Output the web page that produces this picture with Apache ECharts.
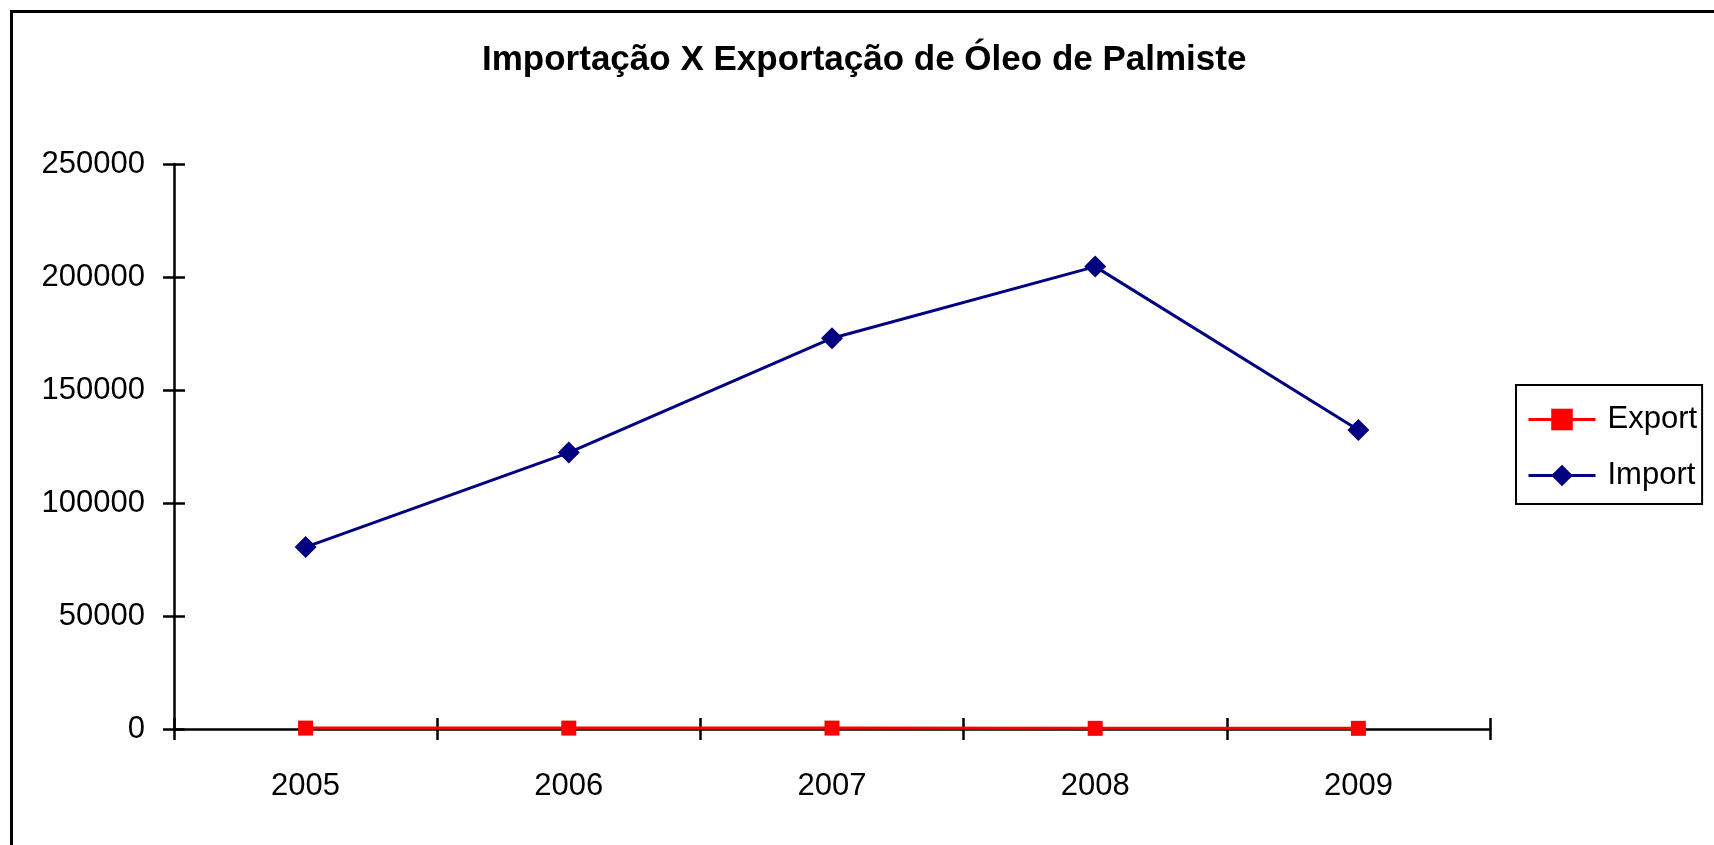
<!DOCTYPE html>
<html>
<head>
<meta charset="utf-8">
<title>Importação X Exportação de Óleo de Palmiste</title>
<script src="https://cdn.jsdelivr.net/npm/echarts@6/dist/echarts.min.js"></script>
<style>
  html, body { margin: 0; padding: 0; background: #fff; }
  #chart { width: 1714px; height: 845px; }
</style>
</head>
<body>
<div id="chart"></div>
<script>
// dados
const years = ['2005', '2006', '2007', '2008', '2009']
const exportValues = [400, 400, 400, 300, 300]
const importValues = [80500, 122300, 172900, 204600, 132300]

const yMin = 0
const yMax = 250000
const yStep = 50000

const font = 'Liberation Sans'

const chart = echarts.init(document.getElementById('chart'))

const tickStyle = { color: '#000', width: 2.5 }

const option = {
  backgroundColor: '#fff',
  animation: false,
  title: {
    text: 'Importação X Exportação de Óleo de Palmiste',
    left: 477,
    top: 38,
    padding: 5,
    textStyle: {
      fontFamily: font,
      fontWeight: 'bold',
      fontSize: 35,
      color: '#000',
    },
  },
  // moldura externa
  graphic: [
    {
      type: 'rect',
      left: 9,
      top: 9,
      shape: { width: 1730, height: 870 },
      style: { fill: 'none', stroke: '#000', lineWidth: 3 },
      silent: true,
    },
  ],
  legend: {
    orient: 'vertical',
    left: 1516,
    top: 385,
    padding: [19, 5, 13, 11],
    itemWidth: 67,
    itemHeight: 27,
    itemGap: 25,
    borderColor: '#000',
    borderWidth: 2,
    backgroundColor: '#fff',
    lineStyle: { width: 3 },
    textStyle: {
      fontFamily: font,
      fontSize: 31,
      color: '#000',
      lineHeight: 30,
      padding: [0, 0, 0, 7],
    },
    data: ['Export', 'Import'],
  },
  grid: {
    left: 174,
    right: 224,
    top: 164,
    bottom: 116,
  },
  xAxis: [
    {
      type: 'category',
      data: years,
      boundaryGap: true,
      axisLine: { lineStyle: { color: '#000', width: 2.5 } },
      axisTick: { show: true, inside: false, length: 11, interval: 0, lineStyle: tickStyle },
      axisLabel: { fontFamily: font, fontSize: 31, color: '#000', margin: 42 },
      splitLine: { show: false },
    },
    {
      // ticks internos (marca cruzada)
      type: 'category',
      data: years,
      position: 'bottom',
      boundaryGap: true,
      axisLine: { show: false },
      axisTick: { show: true, inside: true, length: 11, interval: 0, lineStyle: tickStyle },
      axisLabel: { show: false },
      splitLine: { show: false },
    },
  ],
  yAxis: [
    {
      type: 'value',
      min: yMin,
      max: yMax,
      interval: yStep,
      axisLine: { show: true, lineStyle: { color: '#000', width: 2.5 } },
      axisTick: { show: true, inside: false, length: 11, lineStyle: tickStyle },
      axisLabel: {
        fontFamily: font,
        fontSize: 31,
        color: '#000',
        margin: 29,
        formatter: v => String(v),
      },
      splitLine: { show: false },
    },
    {
      type: 'value',
      position: 'left',
      min: yMin,
      max: yMax,
      interval: yStep,
      axisLine: { show: false },
      axisTick: { show: true, inside: true, length: 11, lineStyle: tickStyle },
      axisLabel: { show: false },
      splitLine: { show: false },
    },
  ],
  series: [
    {
      name: 'Export',
      type: 'line',
      data: exportValues,
      symbol: 'rect',
      symbolSize: 15,
      color: '#ff0000',
      lineStyle: { color: '#ff0000', width: 3 },
      itemStyle: { color: '#ff0000' },
      z: 3,
    },
    {
      name: 'Import',
      type: 'line',
      data: importValues,
      symbol: 'diamond',
      symbolSize: 22,
      color: '#000080',
      lineStyle: { color: '#000080', width: 3 },
      itemStyle: { color: '#000080' },
      z: 3,
    },
  ],
}

chart.setOption(option)
</script>
</body>
</html>
